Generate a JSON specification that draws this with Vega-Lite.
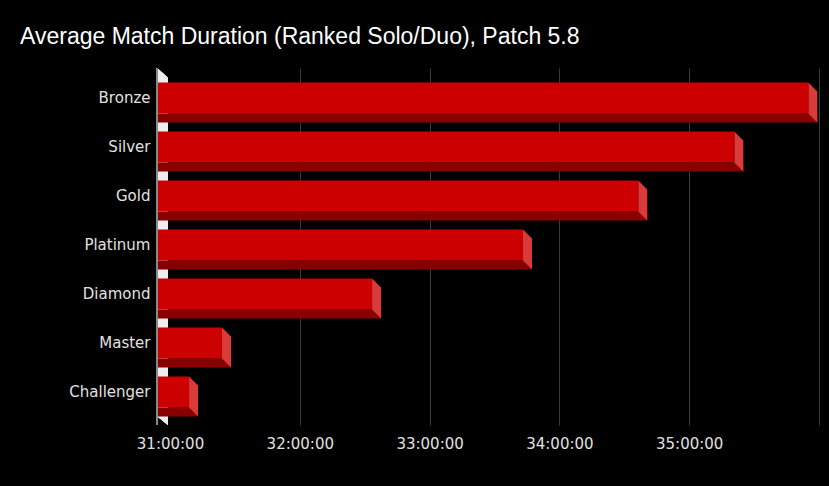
{
  "$schema": "https://vega.github.io/schema/vega-lite/v6.json",
  "width": 649,
  "height": 357,
  "autosize": {"type": "none"},
  "padding": {"left": 170, "top": 68, "right": 10, "bottom": 61},
  "background": "#000000",
  "title": {
    "text": "Average Match Duration (Ranked Solo/Duo), Patch 5.8",
    "anchor": "start",
    "frame": "group",
    "dx": -150,
    "offset": 19,
    "font": "Liberation Sans, Arial, sans-serif",
    "fontSize": 23,
    "fontWeight": "normal",
    "color": "#ffffff"
  },
  "config": {
    "view": {"stroke": null},
    "axis": {"labelFont": "DejaVu Sans", "labelFontSize": 15, "labelColor": "#e0e0e0", "domain": false, "ticks": false, "title": null}
  },
  "data": {
    "values": [
      {"tier": "Bronze", "minutes": 35.987},
      {"tier": "Silver", "minutes": 35.417},
      {"tier": "Gold", "minutes": 34.677},
      {"tier": "Platinum", "minutes": 33.789},
      {"tier": "Diamond", "minutes": 32.626},
      {"tier": "Master", "minutes": 31.47},
      {"tier": "Challenger", "minutes": 31.216}
    ]
  },
  "encoding": {
    "y": {
      "field": "tier",
      "type": "nominal",
      "sort": ["Bronze", "Silver", "Gold", "Platinum", "Diamond", "Master", "Challenger"],
      "scale": {"paddingInner": 0.367, "paddingOuter": 0.3263, "align": 0.453},
      "axis": {"labelPadding": 20, "grid": false}
    }
  },
  "layer": [
    {
      "mark": {"type": "rule", "strokeWidth": 0},
      "encoding": {
        "x": {
          "datum": 31,
          "type": "quantitative",
          "scale": {"domain": [31, 36], "nice": false, "zero": false},
          "axis": {
            "values": [31, 32, 33, 34, 35, 36],
            "grid": true,
            "gridColor": {"condition": {"test": "datum.value == 31", "value": "transparent"}, "value": "#3a3a3a"},
            "gridWidth": 1,
            "labelFlush": false,
            "labelPadding": 11,
            "labelExpr": "datum.value < 36 ? datum.value + ':00:00' : ''"
          }
        },
        "y": null
      }
    },
    {
      "mark": {
        "type": "point",
        "shape": "M-0.065,-0.8925 L-0.01,-0.8425 L-0.01,0.8925 L-0.065,0.8475 Z",
        "size": 160000,
        "filled": true,
        "opacity": 1,
        "color": "#eeeeee",
        "strokeWidth": 0
      },
      "encoding": {
        "x": {"datum": 31, "type": "quantitative"},
        "y": null
      }
    },
    {
      "mark": {"type": "bar", "color": "#880000", "height": 9, "yOffset": 20, "x2Offset": -13},
      "encoding": {
        "x": {"field": "minutes", "type": "quantitative"},
        "x2": {"datum": 31}
      }
    },
    {
      "mark": {
        "type": "point",
        "shape": "M-0.36,-0.62 L0,-0.26 L0,0.98 L-0.36,0.62 Z",
        "size": 2500,
        "filled": true,
        "opacity": 1,
        "color": "#d93a3a",
        "strokeWidth": 0
      },
      "encoding": {
        "x": {"field": "minutes", "type": "quantitative"}
      }
    },
    {
      "mark": {"type": "bar", "color": "#cc0000", "xOffset": -9, "x2Offset": -13},
      "encoding": {
        "x": {"field": "minutes", "type": "quantitative"},
        "x2": {"datum": 31}
      }
    },
    {
      "mark": {"type": "rule", "color": "#8a8a8a", "strokeWidth": 1, "xOffset": -13},
      "encoding": {
        "x": {"datum": 31, "type": "quantitative"},
        "y": null
      }
    }
  ]
}
